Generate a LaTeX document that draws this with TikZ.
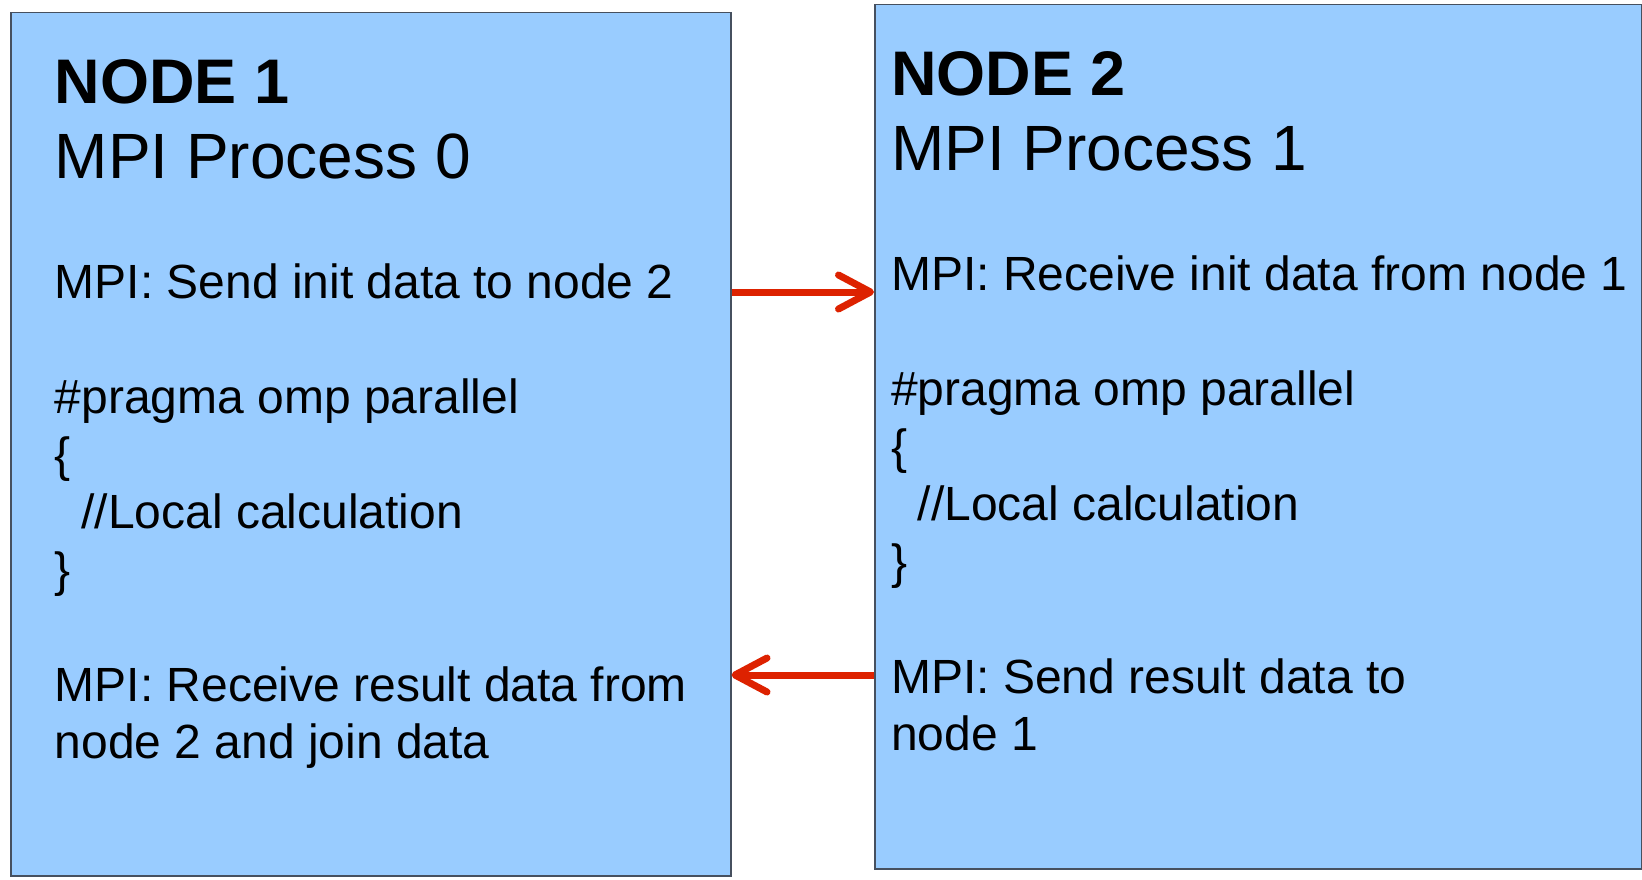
\documentclass[tikz,border=0pt]{standalone}
\usepackage{fontspec}
\setmainfont{Liberation Sans}
\usetikzlibrary{arrows.meta}
\definecolor{boxfill}{RGB}{153,204,255}
\definecolor{boxline}{RGB}{70,80,95}
\definecolor{arrred}{RGB}{221,34,0}
\begin{document}
\begin{tikzpicture}[x=1pt,y=-1pt,
  procbox/.style={draw=boxline, line width=1.5pt, fill=boxfill, anchor=north west, inner sep=0pt},
  ttlbold/.style={anchor=base west, inner sep=0pt, font=\fontsize{63}{75}\selectfont\bfseries},
  ttl/.style={anchor=base west, inner sep=0pt, font=\fontsize{64}{75}\selectfont},
  body/.style={anchor=base west, inner sep=0pt, font=\fontsize{48}{57}\selectfont},
  msg/.style={draw=arrred, line width=7pt, -{Straight Barb[length=32pt,width=34pt,round]}}
]
\useasboundingbox (0,0) rectangle (1642,880);
\fill[white] (0,0) rectangle (1642,880);
% boxes
\node[procbox, minimum width=720pt, minimum height=863pt] (n1) at (10,12) {};
\node[procbox, minimum width=767pt, minimum height=864pt] (n2) at (874,4) {};
% node 1 text
\node[ttlbold] (a1) at (54.5,103.5) {NODE 1};
\node[ttl] (a2) at (54.5,178.5) {MPI Process 0};
\node[body] (a3) at (54.5,298.5) {MPI: Send init data to node 2};
\node[body] (a4) at (54.5,413.5) {\#pragma omp parallel};
\node[body] (a5) at (54.5,471) {\{};
\node[body] (a6) at (54.5,528.5) {\hspace*{26.7pt}//Local calculation};
\node[body] (a7) at (54.5,586) {\}};
\node[body] (a8) at (54.5,701) {MPI: Receive result data from};
\node[body] (a9) at (54.5,758.5) {node 2 and join data};
% node 2 text
\node[ttlbold] (b1) at (891,95.5) {NODE 2};
\node[ttl] (b2) at (891,170.5) {MPI Process 1};
\node[body] (b3) at (891,290.5) {MPI: Receive init data from node 1};
\node[body] (b4) at (891,405.5) {\#pragma omp parallel};
\node[body] (b5) at (891,463) {\{};
\node[body] (b6) at (891,520.5) {\hspace*{26.7pt}//Local calculation};
\node[body] (b7) at (891,578) {\}};
\node[body] (b8) at (891,693) {MPI: Send result data to};
\node[body] (b9) at (891,750.5) {node 1};
% arrows
\coordinate (r1) at (0,292);
\coordinate (r2) at (0,675);
\draw[msg] (n1.east |- r1) -- (n2.west |- r1);
\draw[msg] (n2.west |- r2) -- (n1.east |- r2);
\end{tikzpicture}
\end{document}
